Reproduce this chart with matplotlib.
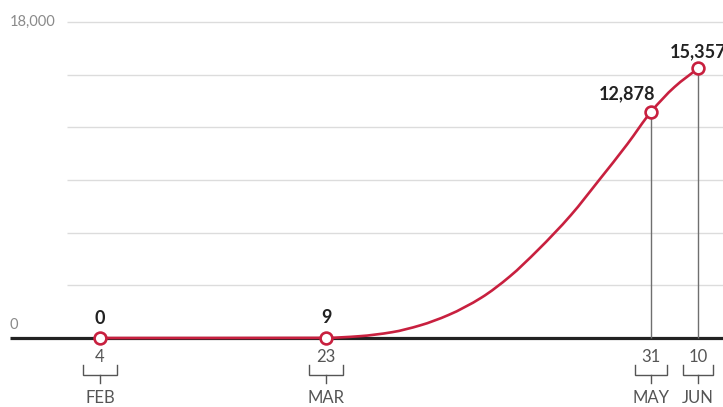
import matplotlib
matplotlib.use("Agg")
import matplotlib.pyplot as plt
from matplotlib.path import Path
from matplotlib.patches import PathPatch
from matplotlib.transforms import blended_transform_factory

# ---------------- data ----------------
# day-of-year (2020) and cumulative values
days = [35, 83, 90, 97, 103, 109, 116, 122, 128, 135, 141, 147, 152, 157, 162]
values = [0, 9, 100, 330, 720, 1310, 2300, 3500, 5012, 7000, 9000, 11050, 12878, 14297, 15357]

marked_days = [35, 83, 152, 162]
marked_values = [0, 9, 12878, 15357]
marked_labels = ["0", "9", "12,878", "15,357"]

date_nums = ["4", "23", "31", "10"]
date_months = ["FEB", "MAR", "MAY", "JUN"]

ytick_vals = [0, 18000]
ytick_labels = ["0", "18,000"]
grid_vals = [3000, 6000, 9000, 12000, 15000, 18000]

RED = "#c8203f"
W, H = 723, 407

plt.rcParams['font.family'] = ['Lato', 'DejaVu Sans']

fig = plt.figure(figsize=(W / 100, H / 100), dpi=100)
ax = fig.add_axes([0, 0, 1, 1])
ax.set_axis_off()

px_per_day = 4.709
x0 = 35 - 100 / px_per_day
x1 = x0 + W / px_per_day
ax.set_xlim(x0, x1)
val_per_px = 18000 / 316.0
ax.set_ylim(-(H - 338) * val_per_px, 338 * val_per_px)

def dx(px):
    return px / px_per_day

def dy(px):
    return px * val_per_px

def yf(py):
    return 1 - py / H

bt = blended_transform_factory(ax.transData, ax.transAxes)

# gridlines
ax.hlines(grid_vals, x0 + dx(67), x1, color="#dcdcdc", lw=1.0, zorder=1)
# baseline
ax.hlines(0, x0 + dx(10), x1, color="#222222", lw=2.3, zorder=2)

# y tick labels
for v, lab in zip(ytick_vals, ytick_labels):
    off = dy(13) if v == 0 else 0
    ax.text(x0 + dx(10), v + off, lab, ha="left", va="center",
            fontsize=10.5, color="#8a8a8a")

# vertical drop lines for the last two points
for d, v in zip(marked_days[2:], marked_values[2:]):
    ax.vlines(d, 0, v, color="#6f6f6f", lw=1.0, zorder=2)

# main line: monotone cubic (Fritsch-Carlson) drawn as Bezier segments
n = len(days)
h = [days[i + 1] - days[i] for i in range(n - 1)]
delta = [(values[i + 1] - values[i]) / h[i] for i in range(n - 1)]
m = [0.0] * n
m[0] = delta[0]
m[-1] = delta[-1]
for i in range(1, n - 1):
    if delta[i - 1] * delta[i] <= 0:
        m[i] = 0.0
    else:
        w1 = 2 * h[i] + h[i - 1]
        w2 = h[i] + 2 * h[i - 1]
        m[i] = (w1 + w2) / (w1 / delta[i - 1] + w2 / delta[i])
verts = [(days[0], values[0])]
codes = [Path.MOVETO]
for i in range(n - 1):
    c1 = (days[i] + h[i] / 3, values[i] + m[i] * h[i] / 3)
    c2 = (days[i + 1] - h[i] / 3, values[i + 1] - m[i + 1] * h[i] / 3)
    verts += [c1, c2, (days[i + 1], values[i + 1])]
    codes += [Path.CURVE4] * 3
ax.add_patch(PathPatch(Path(verts, codes), fill=False, edgecolor=RED, lw=1.9,
                       zorder=3, capstyle="round", joinstyle="round"))
ax.plot(marked_days, marked_values, ls="none", marker="o", ms=8.5,
        mfc="white", mec=RED, mew=1.9, zorder=4)

# value labels
for d, v, lab in zip(marked_days, marked_values, marked_labels):
    if v < 1000:
        ax.text(d, v + dy(20), lab, ha="center", va="center", fontsize=13,
                fontweight="bold", color="#222222")
    elif lab == "12,878":
        ax.text(d + dx(4), v + dy(18), lab, ha="right", va="center", fontsize=13,
                fontweight="bold", color="#222222")
    else:
        ax.text(d - dx(28), v + dy(17), lab, ha="left", va="center", fontsize=13,
                fontweight="bold", color="#222222")

# date labels with brackets
half_w = [17, 17, 16, 15]
for d, num, mon, hw in zip(marked_days, date_nums, date_months, half_w):
    ax.text(d, yf(357), num, transform=bt, ha="center", va="center",
            fontsize=12, color="#555555")
    ax.plot([d - dx(hw), d - dx(hw), d + dx(hw), d + dx(hw)],
            [yf(365), yf(375), yf(375), yf(365)], transform=bt,
            color="#555555", lw=1.0, solid_joinstyle="miter")
    ax.plot([d, d], [yf(375), yf(383)], transform=bt, color="#555555", lw=1.0)
    ax.text(d, yf(398), mon, transform=bt, ha="center", va="center",
            fontsize=12, color="#555555")

fig.savefig("out.png", dpi=100)
